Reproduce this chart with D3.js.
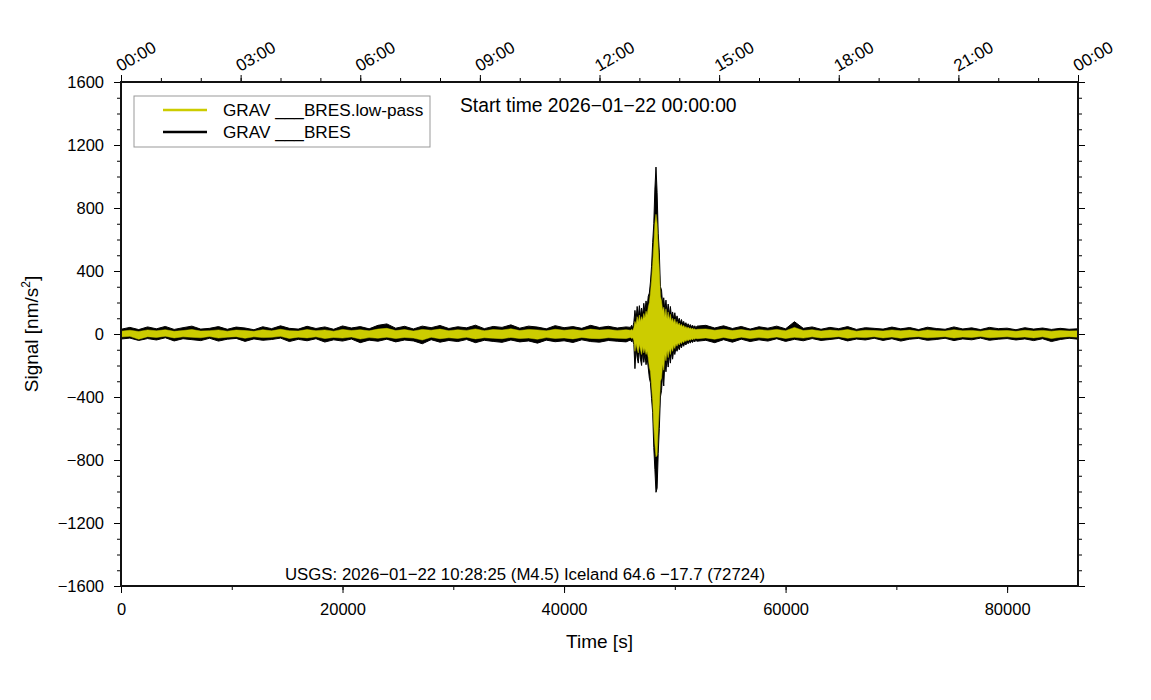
<!DOCTYPE html>
<html>
<head>
<meta charset="utf-8">
<script src="https://cdn.jsdelivr.net/npm/d3@7"></script>
<style>
  body { margin: 0; background: #fff; }
  svg { display: block; font-family: "Liberation Sans", Arial, Helvetica, sans-serif; }
</style>
</head>
<body>
<svg id="chart"></svg>
<script>
// sample grid (s): quiet parts every 800 s, the event every 100 s
const times = [
  ...d3.range(0, 46000, 800),
  ...d3.range(46000, 52001, 100),
  ...d3.range(52800, 86401, 800)
];

// raw trace envelope (nm/s^2)
const rawHigh = [
  30, 42, 28, 45, 33, 48, 29, 40, 50, 31,
  36, 47, 30, 44, 38, 27, 46, 34, 52, 36,
  31, 49, 35, 45, 30, 51, 38, 47, 33, 55,
  64, 37, 49, 32, 50, 40, 54, 35, 46, 39,
  56, 34, 48, 42, 58, 37, 50, 44, 33, 53,
  40, 47, 36, 55, 41, 49, 38, 45,
  // event
  42, 55, 38, 75, 150, 90, 175, 105, 180, 115,
  165, 120, 195, 140, 210, 165, 240, 260, 330, 430,
  580, 700, 920, 1060, 900, 640, 520, 300, 280, 190,
  230, 150, 215, 130, 190, 120, 175, 110, 140, 95,
  135, 85, 115, 80, 100, 70, 92, 65, 80, 55,
  72, 50, 65, 48, 60, 45, 56, 42, 52, 40,
  50,
  // after
  55, 38, 52, 35, 48, 31, 46, 37, 50, 33,
  78, 36, 45, 30, 42, 34, 47, 29, 40, 36,
  31, 44, 33, 41, 28, 43, 35, 30, 45, 32,
  39, 28, 42, 34, 37, 27, 40, 31, 38, 29,
  36, 30, 33
];
const rawLow = [
  -32, -26, -41, -29, -38, -24, -44, -30, -36, -42,
  -27, -45, -33, -28, -47, -31, -40, -35, -26, -48,
  -34, -43, -30, -51, -37, -45, -32, -55, -39, -46,
  -33, -50, -38, -44, -62, -36, -52, -41, -48, -35,
  -55, -40, -47, -53, -38, -50, -44, -58, -39, -49,
  -43, -54, -37, -48, -52, -41, -46, -50,
  // event
  -38, -50, -42, -65, -220, -90, -150, -185, -95, -160,
  -200, -110, -180, -125, -195, -150, -215, -280, -310, -410,
  -500, -720, -860, -1005, -980, -760, -600, -400, -360, -250,
  -330, -180, -240, -150, -210, -130, -185, -115, -160, -100,
  -130, -90, -110, -80, -100, -70, -88, -62, -78, -55,
  -70, -50, -62, -46, -58, -44, -54, -42, -50, -40,
  -46,
  // after
  -40, -55, -36, -52, -33, -48, -37, -45, -30, -47,
  -34, -43, -29, -41, -35, -28, -44, -32, -38, -27,
  -41, -30, -45, -33, -28, -40, -35, -27, -42, -31,
  -37, -26, -40, -33, -29, -38, -31, -42, -30, -48,
  -35, -27, -33
];

// low-pass trace envelope
const lpHigh = [
  18, 24, 16, 26, 20, 27, 17, 22, 28, 19,
  21, 26, 18, 25, 22, 17, 27, 20, 30, 21,
  19, 28, 21, 26, 18, 29, 22, 27, 20, 31,
  36, 22, 28, 19, 29, 24, 31, 21, 27, 23,
  32, 21, 28, 25, 33, 22, 29, 26, 20, 30,
  24, 28, 22, 31, 25, 28, 23, 27,
  // event
  24, 30, 22, 40, 80, 60, 110, 75, 120, 80,
  110, 85, 130, 100, 145, 120, 170, 200, 260, 340,
  440, 560, 700, 760, 700, 540, 400, 240, 210, 150,
  170, 110, 160, 95, 140, 90, 125, 80, 100, 70,
  95, 60, 80, 55, 70, 50, 62, 45, 55, 40,
  48, 35, 44, 33, 40, 30, 38, 28, 34, 27,
  30,
  // after
  32, 24, 30, 22, 28, 20, 27, 23, 29, 21,
  42, 22, 27, 19, 25, 21, 28, 18, 24, 22,
  19, 26, 20, 25, 17, 26, 21, 19, 27, 20,
  23, 18, 25, 21, 22, 17, 24, 19, 23, 18,
  22, 19, 20
];
const lpLow = [
  -19, -15, -33, -17, -22, -14, -25, -18, -21, -24,
  -16, -26, -20, -17, -27, -18, -23, -21, -15, -28,
  -20, -25, -18, -29, -22, -26, -19, -32, -23, -27,
  -20, -29, -22, -26, -38, -21, -30, -24, -28, -21,
  -31, -24, -27, -30, -22, -29, -26, -33, -23, -28,
  -25, -31, -22, -28, -30, -24, -27, -29,
  // event
  -22, -28, -24, -40, -110, -60, -95, -120, -65, -100,
  -130, -80, -120, -90, -130, -110, -150, -210, -240, -330,
  -420, -580, -700, -780, -770, -600, -460, -300, -280, -190,
  -230, -130, -170, -105, -150, -95, -130, -85, -110, -70,
  -92, -62, -78, -55, -70, -50, -62, -45, -55, -40,
  -48, -35, -44, -33, -40, -30, -38, -28, -34, -27,
  -30,
  // after
  -25, -33, -22, -31, -20, -29, -23, -27, -19, -28,
  -21, -26, -18, -25, -22, -17, -27, -20, -23, -17,
  -25, -19, -27, -20, -17, -24, -21, -17, -25, -19,
  -22, -16, -24, -20, -18, -23, -19, -25, -18, -29,
  -21, -17, -20
];

const seriesNames = ['GRAV ___BRES.low-pass', 'GRAV ___BRES'];
const yMajor = d3.range(-1600, 1601, 400);
const yMinor = d3.range(-1600, 1601, 100);
const xMajor = d3.range(0, 86400, 20000);
const xMinor = d3.range(0, 86401, 10000);
const hourMajor = d3.range(0, 86401, 10800);
const hourMinor = d3.range(0, 86401, 3600);

const W = 1151, H = 700;
const plotLeft = 121, plotRight = 1078, plotTop = 82, plotBottom = 586;
const yellow = '#cccc00';

const svg = d3.select('#chart').attr('width', W).attr('height', H);
svg.append('rect').attr('width', W).attr('height', H).attr('fill', '#fff');

const x = d3.scaleLinear().domain([0, 86400]).range([plotLeft, plotRight]);
const y = d3.scaleLinear().domain([-1600, 1600]).range([plotBottom, plotTop]);

const samples = times.map((t, i) => ({
  t, rh: rawHigh[i], rl: rawLow[i], lh: lpHigh[i], ll: lpLow[i]
}));

// traces
const rawArea = d3.area()
  .x(d => x(d.t)).y0(d => y(d.rl)).y1(d => y(d.rh));
const lpArea = d3.area()
  .x(d => x(d.t)).y0(d => y(d.ll)).y1(d => y(d.lh));

svg.append('path')
  .datum(samples)
  .attr('d', rawArea)
  .attr('fill', '#000')
  .attr('stroke', '#000')
  .attr('stroke-width', 1);
svg.append('path')
  .datum(samples)
  .attr('d', lpArea)
  .attr('fill', yellow)
  .attr('stroke', yellow)
  .attr('stroke-width', 0.5);

// axes
function styleAxis(g) {
  g.select('.domain').remove();
  g.attr('font-family', null).attr('font-size', 16.5);
  g.selectAll('line').attr('stroke', '#000');
  g.selectAll('text').attr('fill', '#000');
}
const blank = () => '';

svg.append('g').attr('transform', `translate(${plotLeft},0)`)
  .call(d3.axisLeft(y).tickValues(yMinor).tickSize(4).tickFormat(blank))
  .call(styleAxis);
svg.append('g').attr('transform', `translate(${plotLeft},0)`)
  .call(d3.axisLeft(y).tickValues(yMajor).tickSize(7).tickPadding(10).tickFormat(d3.format('d')))
  .call(styleAxis);

svg.append('g').attr('transform', `translate(${plotRight},0)`)
  .call(d3.axisRight(y).tickValues(yMinor).tickSize(4).tickFormat(blank))
  .call(styleAxis);
svg.append('g').attr('transform', `translate(${plotRight},0)`)
  .call(d3.axisRight(y).tickValues(yMajor).tickSize(7).tickFormat(blank))
  .call(styleAxis);

svg.append('g').attr('transform', `translate(0,${plotBottom})`)
  .call(d3.axisBottom(x).tickValues(xMinor).tickSize(4).tickFormat(blank))
  .call(styleAxis);
svg.append('g').attr('transform', `translate(0,${plotBottom})`)
  .call(d3.axisBottom(x).tickValues(xMajor).tickSize(7).tickPadding(10).tickFormat(d3.format('d')))
  .call(styleAxis);

const hourFmt = t => String((t / 3600) % 24).padStart(2, '0') + ':00';
svg.append('g').attr('transform', `translate(0,${plotTop})`)
  .call(d3.axisTop(x).tickValues(hourMinor).tickSize(4).tickFormat(blank))
  .call(styleAxis);
svg.append('g').attr('transform', `translate(0,${plotTop})`)
  .call(d3.axisTop(x).tickValues(hourMajor).tickSize(7).tickFormat(hourFmt))
  .call(styleAxis)
  .call(g => g.selectAll('text')
    .attr('x', 0).attr('y', 0).attr('dy', 0)
    .attr('text-anchor', 'start')
    .attr('font-size', 17)
    .attr('transform', 'translate(-1,-10) rotate(-30)'));

// frame
svg.append('rect')
  .attr('x', plotLeft).attr('y', plotTop)
  .attr('width', plotRight - plotLeft).attr('height', plotBottom - plotTop)
  .attr('fill', 'none').attr('stroke', '#111').attr('stroke-width', 2);

// axis titles
svg.append('text')
  .attr('x', (plotLeft + plotRight) / 2).attr('y', 648)
  .attr('text-anchor', 'middle').attr('font-size', 19)
  .text('Time [s]');
const yTitle = svg.append('text')
  .attr('transform', `translate(38,${(plotTop + plotBottom) / 2}) rotate(-90)`)
  .attr('text-anchor', 'middle').attr('font-size', 19);
yTitle.append('tspan').text('Signal [nm/s');
yTitle.append('tspan').attr('font-size', 12).attr('dy', -8).text('2');
yTitle.append('tspan').attr('dy', 8).text(']');

// annotations
svg.append('text')
  .attr('x', 460).attr('y', 112).attr('font-size', 19.3)
  .text('Start time 2026\u221201\u221222 00:00:00');
svg.append('text')
  .attr('x', 285).attr('y', 580).attr('font-size', 16.8)
  .text('USGS: 2026\u221201\u221222 10:28:25 (M4.5) Iceland 64.6 \u221217.7 (72724)');

// legend
const legend = svg.append('g');
legend.append('rect')
  .attr('x', 134).attr('y', 96).attr('width', 296).attr('height', 51)
  .attr('fill', '#fff').attr('stroke', '#999').attr('stroke-width', 1);
const legendColors = [yellow, '#000'];
seriesNames.forEach((name, i) => {
  const ly = 110 + i * 22;
  legend.append('line')
    .attr('x1', 163).attr('x2', 207).attr('y1', ly).attr('y2', ly)
    .attr('stroke', legendColors[i]).attr('stroke-width', 2.5);
  legend.append('text')
    .attr('x', 223).attr('y', ly + 6).attr('font-size', 17.2)
    .text(name);
});
</script>
</body>
</html>
